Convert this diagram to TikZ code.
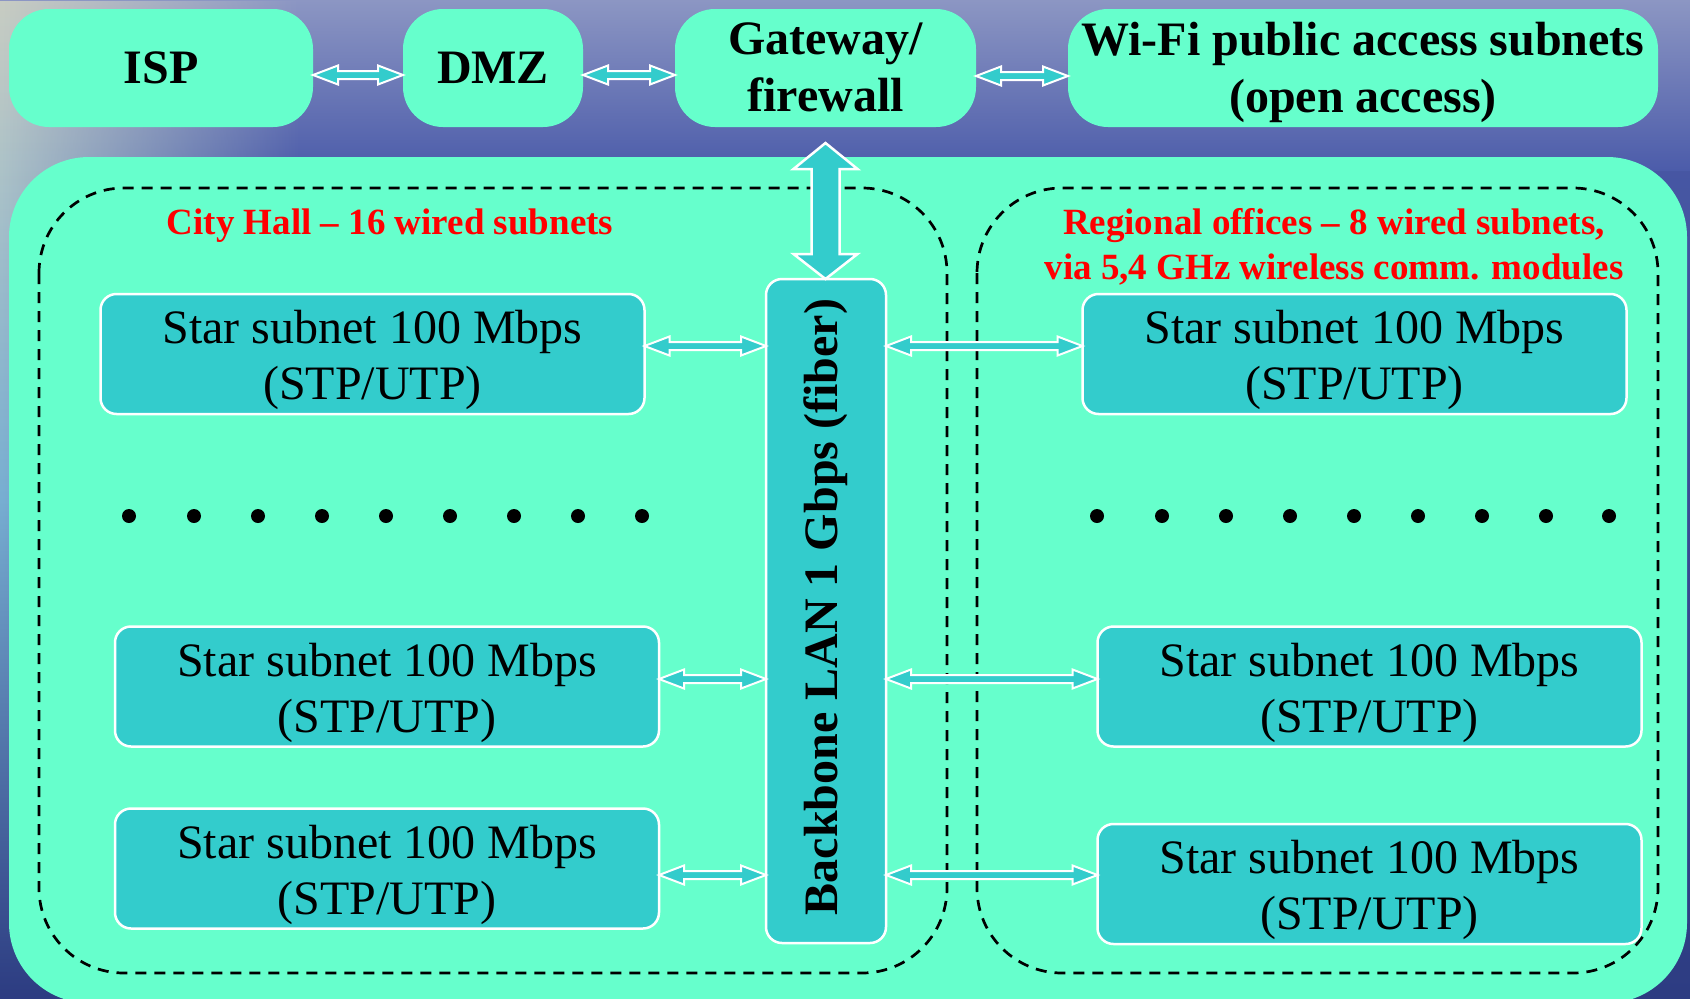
\documentclass[tikz,border=0pt]{standalone}
\usepackage{fontspec}
\setmainfont{Liberation Serif}
\usetikzlibrary{calc,fadings}
\definecolor{aqua}{RGB}{102,255,204}
\definecolor{tealbox}{RGB}{51,204,204}
\definecolor{sea}{RGB}{76,92,170}
\definecolor{seadark}{RGB}{45,60,130}
\definecolor{skyA}{RGB}{140,150,195}
\definecolor{skyL}{RGB}{200,205,195}
\definecolor{skyB}{RGB}{120,175,210}
\definecolor{labred}{RGB}{255,0,0}
\newcommand\lowr[2]{\raisebox{-#1}[\height][\depth]{\begin{tabular}{@{}c@{}}#2\end{tabular}}}
\newcommand\hdarrow[2]{%
  \draw[arrowline] let \p1=#1, \p2=#2 in
    (\x1,\y1) -- (\x1+25pt,\y1+9.5pt) -- (\x1+25pt,\y1+4pt)
    -- (\x2-25pt,\y1+4pt) -- (\x2-25pt,\y1+9.5pt) -- (\x2,\y1)
    -- (\x2-25pt,\y1-9.5pt) -- (\x2-25pt,\y1-4pt)
    -- (\x1+25pt,\y1-4pt) -- (\x1+25pt,\y1-9.5pt) -- cycle;}
\begin{document}
\begin{tikzpicture}[x=1pt,y=-1pt,
  topbox/.style={fill=aqua, rounded corners=40pt, inner sep=0pt, outer sep=0pt,
     text=black, font=\bfseries\fontsize{48}{57}\selectfont},
  starbox/.style={fill=tealbox, draw=white, line width=2.5pt, rounded corners=16pt,
     inner sep=0pt, outer sep=0pt, text=black,
     minimum width=544pt, minimum height=120pt, font=\fontsize{48}{56}\selectfont},
  bbbox/.style={fill=tealbox, draw=white, line width=2.5pt, rounded corners=16pt,
     inner sep=0pt, outer sep=0pt, minimum width=120pt, minimum height=664pt},
  lab/.style={text=labred, align=center, inner sep=0pt, font=\bfseries\fontsize{37}{45}\selectfont},
  arrowline/.style={fill=tealbox, draw=white, line width=2pt, line join=miter},
  region/.style={draw=black, line width=2.7pt, dash pattern=on 11pt off 8pt, rounded corners=85pt}
]
\useasboundingbox (0,0) rectangle (1690,999);
\clip (0,0) rectangle (1690,999);
% background photo approximation
\shade[top color=sea, bottom color=seadark] (0,0) rectangle (1690,999);
\shade[top color=skyA, bottom color=sea] (0,0) rectangle (1690,170);
\shade[top color=skyL, bottom color=seadark, middle color=skyB, path fading=east] (0,0) rectangle (300,999);
% main area
\fill[aqua, rounded corners=80pt] (9,157) rectangle (1687,1003);
\draw[region] (39,188) rectangle (947,973);
\draw[region] (977,188) rectangle (1658,973);
% top row
\node[topbox, minimum width=304pt, minimum height=118pt] (isp) at (161,68) {\lowr{4pt}{ISP}};
\node[topbox, minimum width=180pt, minimum height=118pt] (dmz) at (493,68) {\lowr{4pt}{DMZ}};
\node[topbox, minimum width=301pt, minimum height=118pt] (gw) at (825.5,68) {\lowr{4pt}{Gateway/\\firewall}};
\node[topbox, minimum width=590pt, minimum height=118pt] (wifi) at (1363,68) {\lowr{5pt}{Wi-Fi public access subnets\\(open access)}};
% labels
\node[lab] (chl) at (390,226) {City Hall – 16 wired subnets};
\node[lab] (rol) at (1334,247) {Regional offices – 8 wired subnets,\\via 5,4 GHz wireless comm. modules};
% star subnets
\node[starbox] (l1) at (372.5,354) {\lowr{6.5pt}{Star subnet 100 Mbps\\(STP/UTP)}};
\node[starbox] (l2) at (387,686.5) {\lowr{6.5pt}{Star subnet 100 Mbps\\(STP/UTP)}};
\node[starbox] (l3) at (387,868.5) {\lowr{6.5pt}{Star subnet 100 Mbps\\(STP/UTP)}};
\node[starbox] (r1) at (1354.5,354) {\lowr{6.5pt}{Star subnet 100 Mbps\\(STP/UTP)}};
\node[starbox] (r2) at (1369.5,686.5) {\lowr{6.5pt}{Star subnet 100 Mbps\\(STP/UTP)}};
\node[starbox] (r3) at (1369.5,884) {\lowr{6.5pt}{Star subnet 100 Mbps\\(STP/UTP)}};
% backbone
\node[bbbox] (bb) at (826,611) {};
\node[rotate=90, inner sep=0pt, font=\bfseries\fontsize{48}{57}\selectfont] (bbt) at ($(bb.center)+(0,-4)$) {Backbone LAN 1 Gbps (fiber)};
% top arrows
\hdarrow{($(isp.east)+(0,7)$)}{(dmz.west)}
\hdarrow{($(dmz.east)+(0,7)$)}{(gw.west)}
\hdarrow{($(gw.east)+(0,8)$)}{(wifi.west)}
% big gateway arrow
\draw[arrowline, line width=2.5pt] let \p1=($(gw.south)+(0,16)$), \p2=(bb.north) in
  (\x1,\y1) -- (\x1+32pt,\y1-26pt) -- (\x1+14pt,\y1-26pt) -- (\x1+14pt,\y2+25pt)
  -- (\x1+32pt,\y2+25pt) -- (\x1,\y2) -- (\x1-32pt,\y2+25pt) -- (\x1-14pt,\y2+25pt)
  -- (\x1-14pt,\y1-26pt) -- (\x1-32pt,\y1-26pt) -- cycle;
% subnet arrows
\hdarrow{($(l1.east)+(0,-8)$)}{(bb.west)}
\hdarrow{($(l2.east)+(0,-7.5)$)}{(bb.west)}
\hdarrow{($(l3.east)+(0,6.5)$)}{(bb.west)}
\hdarrow{($(bb.east |- r1.west)+(0,-8)$)}{(r1.west)}
\hdarrow{($(bb.east |- r2.west)+(0,-7.5)$)}{(r2.west)}
\hdarrow{($(bb.east |- r3.west)+(0,-9)$)}{(r3.west)}
% dots
\foreach \x in {129,194,258,322,386,450,514,578,642}
  \fill[black] (\x,516) circle (7pt);
\foreach \x in {1097,1162,1226,1290,1354,1418,1482,1546,1609}
  \fill[black] (\x,516) circle (7pt);
\end{tikzpicture}
\end{document}
